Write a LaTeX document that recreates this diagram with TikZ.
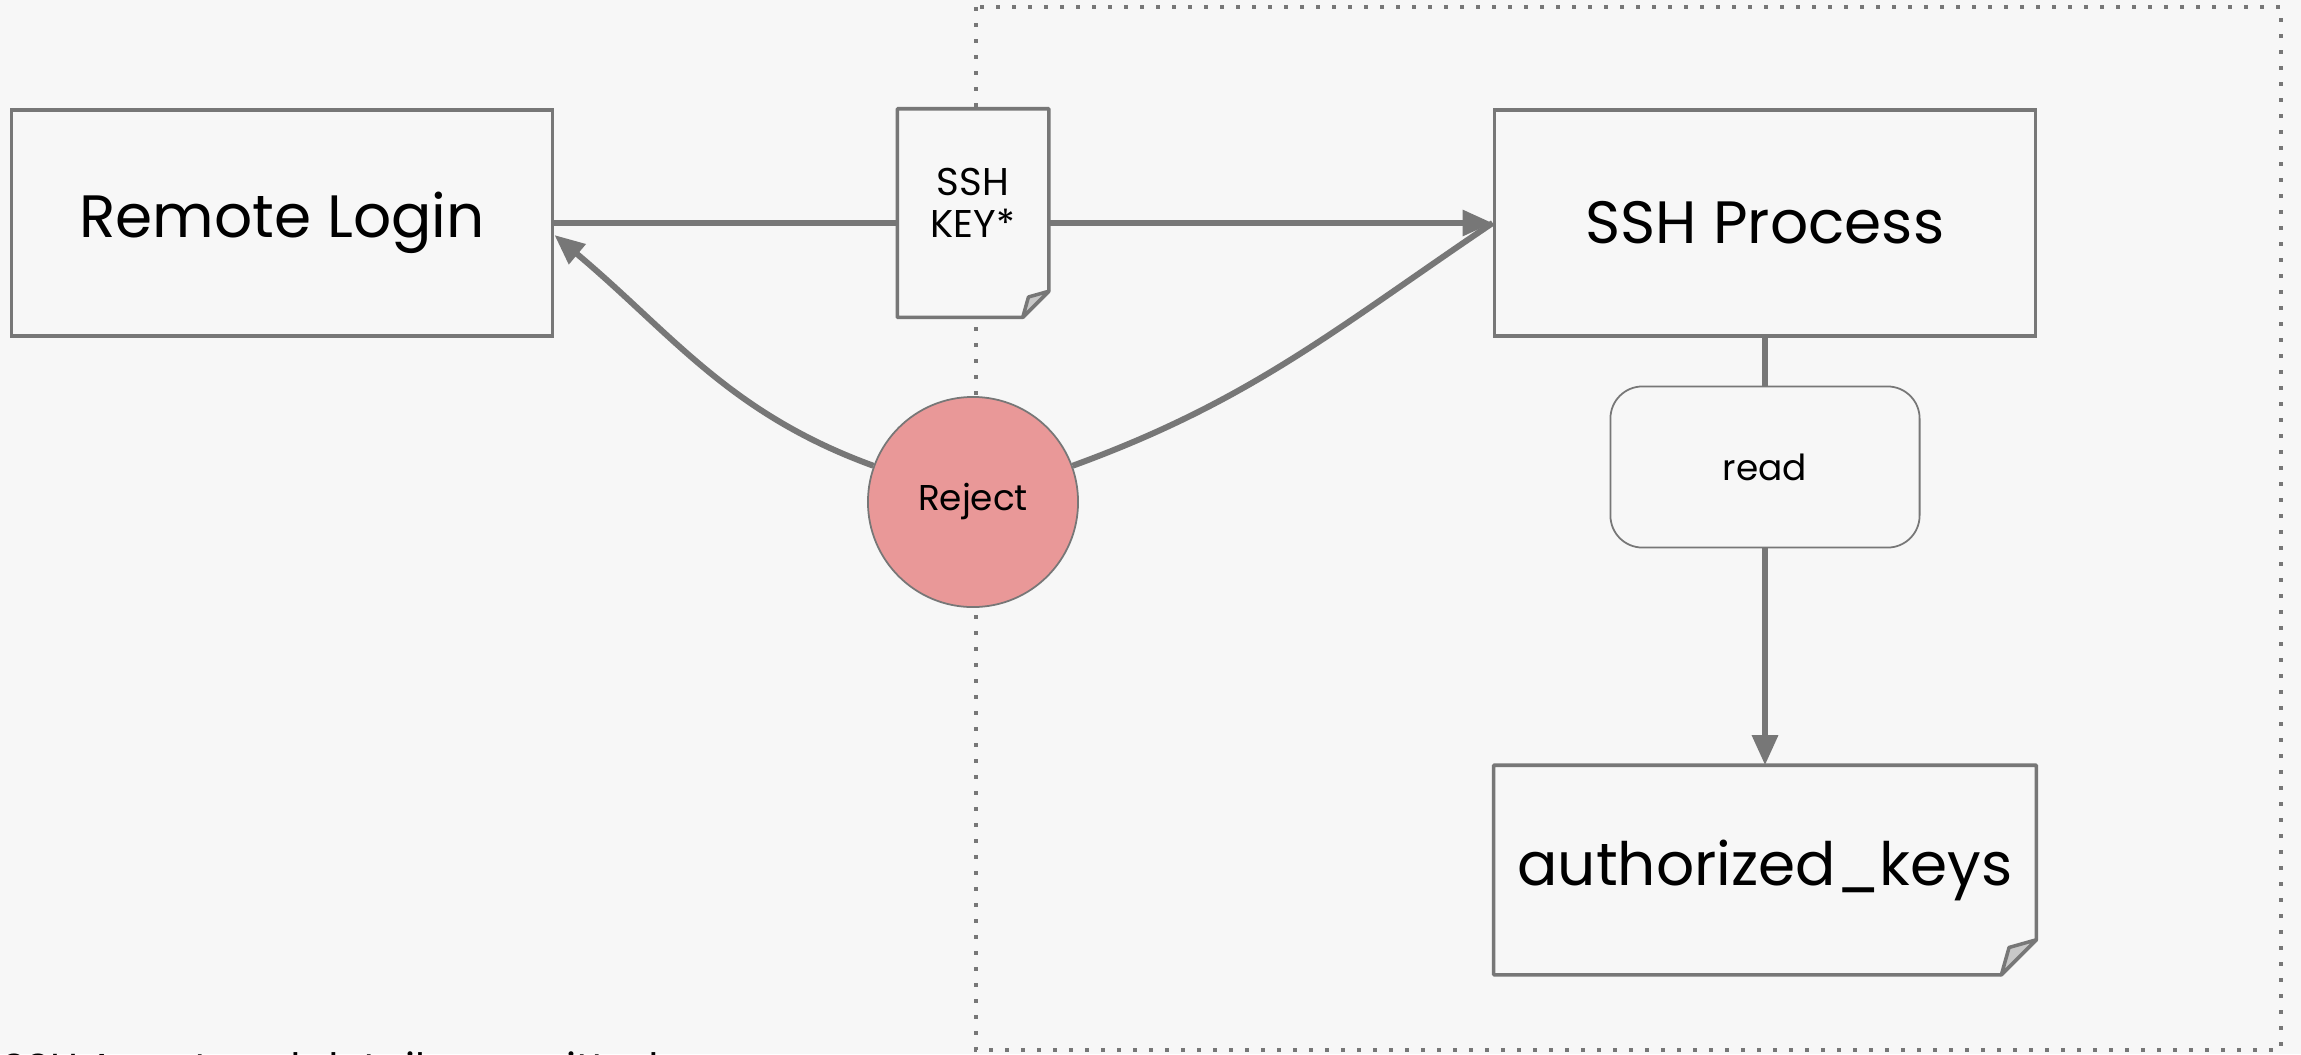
\documentclass[tikz,border=0pt]{standalone}
\usepackage{fontspec}
\setmainfont{Poppins}
\usepackage{tikz}
\usetikzlibrary{arrows.meta,calc}
\definecolor{bgcol}{RGB}{247,247,247}
\definecolor{linegray}{RGB}{119,119,119}
\definecolor{rejectred}{RGB}{233,152,152}
\definecolor{foldgray}{RGB}{200,200,200}
\newcommand{\bigfont}{\fontsize{17}{20}\selectfont}
\newcommand{\smallfont}{\fontsize{10.2}{13}\selectfont}
\newcommand{\docoutline}[2]{%
	\draw[linegray, line width=1pt, line join=round] (#1.north west) -- (#1.north east) -- ([yshift=#2]#1.south east) -- ([xshift=-#2]#1.south east) -- (#1.south west) -- cycle;
	\draw[linegray, line width=1pt, fill=foldgray, line join=round] ([yshift=#2]#1.south east) -- ([xshift=-0.78*#2, yshift=0.78*#2]#1.south east) -- ([xshift=-#2]#1.south east) -- cycle;
}
\tikzset{
	box/.style={draw=linegray, line width=1pt, fill=bgcol, minimum width=5.41cm, minimum height=2.26cm, inner sep=0pt, font=\bigfont},
	docnode/.style={fill=bgcol, inner sep=0pt, align=center},
	readbox/.style={draw=linegray, line width=0.5pt, fill=bgcol, rounded corners=0.32cm, minimum width=3.09cm, minimum height=1.61cm, font=\smallfont},
	badge/.style={circle, draw=linegray, line width=0.5pt, fill=rejectred, minimum size=2.1cm, inner sep=0pt, font=\smallfont},
	zone/.style={draw=linegray, line width=1pt, dash pattern=on 1pt off 3.55pt},
	link/.style={draw=linegray, line width=1.7pt},
	flow/.style={link, -{Triangle[length=0.3cm, width=0.25cm]}}
}
\begin{document}
\begin{tikzpicture}[x=0.01cm, y=-0.01cm]
	\fill[bgcol] (0,0) rectangle (2301,1054);
	\useasboundingbox (0,0) rectangle (2301,1054);
	\draw[zone] (976,7) rectangle (2281,1050);
	\node[box] (login) at (282,223) {Remote Login};
	\node[box] (sshproc) at (1765,223) {SSH Process};
	\node[docnode, minimum width=1.5cm, minimum height=2.07cm, font=\fontsize{11}{13}\selectfont] (key) at (973,213) {SSH\\[-1pt]KEY*\\[-7pt]\mbox{}};
	\node[docnode, minimum width=5.41cm, minimum height=2.08cm, font=\bigfont] (authkeys) at (1765,870) {authorized\_keys\\[-16pt]\mbox{}};
	\node[readbox] (read) at (1765,467) {read};
	\node[badge] (reject) at (973,502) {Reject};
	\docoutline{key}{0.26cm}
	\docoutline{authkeys}{0.35cm}
	\draw[link] (login.east) -- (login.east -| key.west);
	\draw[flow] (key.east |- sshproc.west) -- (sshproc.west);
	\draw[link] (sshproc.south) -- (read.north);
	\draw[flow] (read.south) -- (authkeys.north);
	\draw[link] (sshproc.west) to[out=214, in=20] (reject);
	\draw[flow] (reject) to[out=160, in=-40] ([yshift=-0.12cm]login.east);
	\node[anchor=base west, inner sep=0pt, font=\fontsize{11.5}{14}\selectfont] (note) at (2,1082) {SSH Agent and details ommitted};
\end{tikzpicture}
\end{document}
